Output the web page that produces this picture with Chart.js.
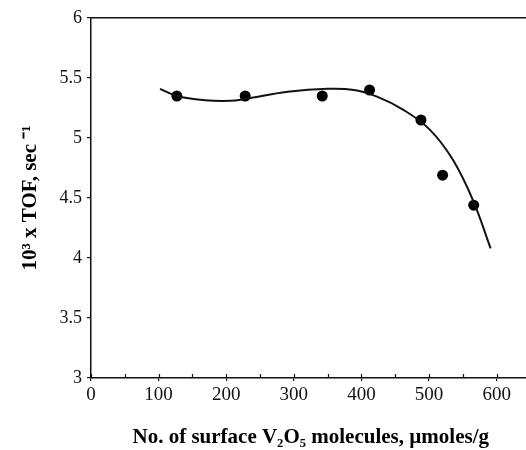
<!DOCTYPE html>
<html>
<head>
<meta charset="utf-8">
<script src="https://cdn.jsdelivr.net/npm/chart.js@4/dist/chart.umd.min.js"></script>
<style>
  html, body { margin: 0; padding: 0; background: #fff; overflow: hidden; }
  #wrap { position: absolute; left: 0; top: 0; width: 536px; height: 450px; }
</style>
</head>
<body>
<div id="wrap"><canvas id="chart"></canvas></div>
<script>
// measured points
const surfaceV2O5 = [127, 228, 342, 412, 488, 520, 566];
const tofValues = [5.35, 5.35, 5.35, 5.40, 5.15, 4.69, 4.44];

// fitted curve
const fitX = [102, 127, 169, 206, 228, 291, 350, 389, 423, 462, 501, 535, 565, 591];
const fitY = [5.41, 5.35, 5.315, 5.31, 5.325, 5.385, 5.41, 5.40, 5.345, 5.235, 5.07, 4.82, 4.48, 4.08];

const xTickLabels = [0, 100, 200, 300, 400, 500, 600];
const yTickLabels = [3, 3.5, 4, 4.5, 5, 5.5, 6];

const serif = "'Liberation Serif', 'Times New Roman', serif";

// short tick marks on the inner side of the x axis, so the major ones cross it
const innerTicks = {
    id: 'innerTicks',
    afterDraw(chart) {
        const sx = chart.scales.x;
        const c = chart.ctx;
        c.save();
        c.strokeStyle = '#111';
        c.lineWidth = 1.2;
        c.beginPath();
        sx.ticks.forEach(t => {
            const px = Math.round(sx.getPixelForValue(t.value)) + 0.5;
            c.moveTo(px, sx.top);
            c.lineTo(px, sx.top - 4);
        });
        c.stroke();
        c.restore();
    }
};

(function() {
    const toPoints = (xs, ys) => xs.map((x, i) => ({ x: x, y: ys[i] }));

    const ctx = document.getElementById("chart").getContext('2d');
    new Chart(ctx, {
        type: 'scatter',
        data: {
            datasets: [{
                label: 'fit',
                data: toPoints(fitX, fitY),
                showLine: true,
                borderColor: '#111',
                borderWidth: 2,
                pointRadius: 0,
                tension: 0.4,
                fill: false
            }, {
                label: 'TOF',
                data: toPoints(surfaceV2O5, tofValues),
                pointRadius: 5.5,
                pointBackgroundColor: '#000',
                pointBorderColor: '#000',
                borderWidth: 0
            }]
        },
        options: {
            responsive: true,
            maintainAspectRatio: false,
            animation: false,
            layout: { padding: 0 },
            plugins: { legend: { display: false }, tooltip: { enabled: false } },
            scales: {
                x: {
                    type: 'linear',
                    min: 0,
                    max: 650,
                    afterFit: s => { s.height = 72; },
                    ticks: {
                        stepSize: 50,
                        includeBounds: false,
                        autoSkip: false,
                        maxRotation: 0,
                        color: '#111',
                        padding: 3,
                        font: { family: serif, size: 19 },
                        callback: v => xTickLabels.includes(v) ? String(v) : ''
                    },
                    grid: {
                        drawOnChartArea: false,
                        tickLength: 3,
                        lineWidth: 1.2,
                        color: c => (c.tick && c.tick.value % 100 === 0) ? '#111' : 'rgba(0,0,0,0)'
                    },
                    border: { color: '#111', width: 1.5 },
                    title: {
                        display: true,
                        text: 'No. of surface V\u2082O\u2085 molecules, \u00b5moles/g',
                        color: '#000',
                        font: { family: serif, size: 21, weight: 'bold' },
                        padding: { top: 0, bottom: 0 }
                    }
                },
                x2: {
                    type: 'linear',
                    position: 'top',
                    min: 0,
                    max: 650,
                    afterFit: s => { s.height = 18; },
                    ticks: { display: false },
                    grid: { display: false },
                    border: { color: '#111', width: 1.5 }
                },
                y: {
                    min: 3,
                    max: 6,
                    afterFit: s => { s.width = 91; },
                    ticks: {
                        stepSize: 0.5,
                        color: '#111',
                        padding: 5,
                        font: { family: serif, size: 18 },
                        callback: v => yTickLabels.includes(v) ? String(v) : ''
                    },
                    grid: { drawOnChartArea: false, tickLength: 4, color: '#111', lineWidth: 1.2 },
                    border: { color: '#111', width: 1.5 },
                    title: {
                        display: true,
                        text: '10\u00b3 x TOF, sec \u207b\u00b9',
                        color: '#000',
                        font: { family: serif, size: 21, weight: 'bold' },
                        padding: { top: 18, bottom: 0 }
                    }
                }
            }
        },
        plugins: [innerTicks]
    });
})();
</script>
</body>
</html>
